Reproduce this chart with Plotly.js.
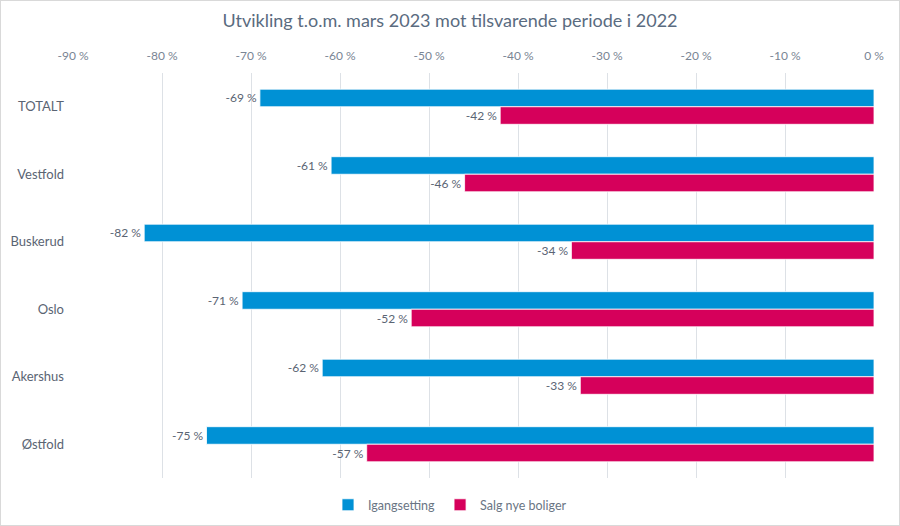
<!DOCTYPE html>
<html><head><meta charset="utf-8">
<script src="https://cdn.plot.ly/plotly-3.0.1.min.js"></script>
<style>html,body{margin:0;padding:0;background:#fff;}#chart{width:898px;height:524px;border:1px solid #d9d9d9;}</style>
</head><body><div id="chart"></div>
<script>
const categories = ["TOTALT","Vestfold","Buskerud","Oslo","Akershus","Østfold"];
const igangsetting = [-69,-61,-82,-71,-62,-75];
const salgNyeBoliger = [-42,-46,-34,-52,-33,-57];
const tickVals = [-90,-80,-70,-60,-50,-40,-30,-20,-10,0];
const tickText = tickVals.map(v => v + " %");
const font = "Lato, 'Open Sans', sans-serif";
const mk = (name, vals, color) => ({
  type: "bar", orientation: "h", name: name, y: categories, x: vals,
  marker: {color: color, line: {color: "#ffffff", width: 0.8}},
  text: vals.map(v => v + " %"), textposition: "outside", cliponaxis: false,
  textfont: {family: font, size: 12, color: "#5a6473"},
  hoverinfo: "x+y"
});
const data = [mk("Igangsetting", igangsetting, "#0091d5"), mk("Salg nye boliger", salgNyeBoliger, "#d6005b")];
const layout = {
  width: 898, height: 524,
  margin: {l: 72, r: 25, t: 72, b: 47, autoexpand: false},
  paper_bgcolor: "#fff", plot_bgcolor: "#fff",
  title: {text: "Utvikling t.o.m. mars 2023 mot tilsvarende periode i 2022", x: 0.5, xanchor: "center", y: 0.962, yanchor: "middle", font: {family: font, size: 18, color: "#5a6b80"}},
  barmode: "group", bargap: 0.48, bargroupgap: 0,
  xaxis: {side: "top", range: [-90, 0], tickvals: tickVals, ticktext: tickText, showgrid: true, gridcolor: "#dde1e6", zeroline: false, showline: false, tickfont: {family: font, size: 12, color: "#7a8594"}, ticks: "", ticklabelstandoff: 10, automargin: false},
  yaxis: {autorange: "reversed", showgrid: false, showline: false, ticks: "", tickfont: {family: font, size: 13, color: "#5a6473"}, ticklabelstandoff: 8, automargin: false},
  legend: {orientation: "h", xref: "container", x: 0.5, xanchor: "center", y: -0.067, yanchor: "middle", itemwidth: 30, font: {family: font, size: 12.5, color: "#6a7584"}},
  showlegend: true
};
Plotly.newPlot("chart", data, layout, {displayModeBar: false, staticPlot: true});
</script></body></html>
